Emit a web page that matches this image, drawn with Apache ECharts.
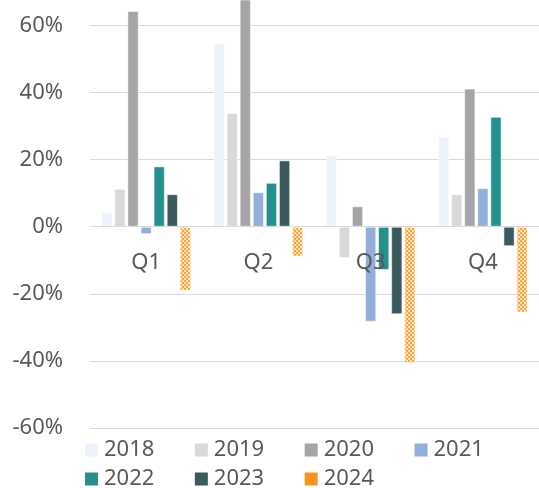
<!DOCTYPE html>
<html>
<head>
<meta charset="utf-8">
<script src="https://cdn.jsdelivr.net/npm/echarts@6/dist/echarts.min.js"></script>
<style>
  html, body { margin: 0; padding: 0; background: #fff; }
  #chart { width: 539px; height: 488px; }
</style>
</head>
<body>
<div id="chart"></div>
<script>
var quarters = ["Q1", "Q2", "Q3", "Q4"];
var years = ["2018", "2019", "2020", "2021", "2022", "2023", "2024"];
// growth in %, one array per year (Q1..Q4)
var v2018 = [4.3, 54.8, 21.4, 26.8];
var v2019 = [11.3, 33.9, -9.3, 9.7];
var v2020 = [64.3, 75.0, 6.1, 41.2];
var v2021 = [-2.2, 10.3, -28.3, 11.5];
var v2022 = [18.0, 13.1, -12.9, 32.8];
var v2023 = [9.7, 19.8, -26.1, -5.8];
var v2024 = [-19.1, -8.9, -40.7, -25.6];
var yMin = -60;
var yMax = 67.6; // picture is cropped just above the 60% line
var yStep = 20;

var values = [v2018, v2019, v2020, v2021, v2022, v2023, v2024];
var colors = ["#EEF2FA", "#D9D9D9", "#A5A5A5", "#92AEDA", "#26908F", "#3A5A5E", "#F7941D"];

// checker pattern for 2024
var pat = document.createElement("canvas");
pat.width = 4;
pat.height = 4;
var ctx = pat.getContext("2d");
ctx.fillStyle = "#FDE2BC";
ctx.fillRect(0, 0, 4, 4);
ctx.fillStyle = "#F9A540";
ctx.fillRect(0, 0, 2, 2);
ctx.fillRect(2, 2, 2, 2);

var series = years.map(function (y, i) {
  return {
    name: y,
    type: "bar",
    data: values[i],
    barGap: "16%",
    barCategoryGap: "20%",
    itemStyle: {
      color: i === 6 ? { image: pat, repeat: "repeat" } : colors[i],
      borderColor: "rgba(255,255,255,0.55)",
      borderWidth: 1
    }
  };
});

function legendItems(list) {
  return list.map(function (y) {
    return { name: y, itemStyle: { color: colors[years.indexOf(y)], borderWidth: 0 } };
  });
}

var font = "Noto Sans";
var gridH = 428;
// x axis sits at 0%: shift it up from the grid bottom
var zeroOffset = -gridH * (0 - yMin) / (yMax - yMin);

var legendBase = {
  left: 85,
  padding: 0,
  itemWidth: 13,
  itemHeight: 13,
  itemGap: 40.5,
  icon: "rect",
  textStyle: { fontFamily: font, fontSize: 22, color: "#595959", padding: [0, 0, 0, 1] }
};

var chart = echarts.init(document.getElementById("chart"));
chart.setOption({
  animation: false,
  grid: { left: 90, right: -7, top: 0, height: gridH },
  legend: [
    Object.assign({}, legendBase, { top: 439, data: legendItems(years.slice(0, 4)) }),
    Object.assign({}, legendBase, { top: 468, data: legendItems(years.slice(4)) })
  ],
  xAxis: {
    type: "category",
    data: quarters,
    offset: zeroOffset,
    z: 5,
    axisTick: { show: false },
    axisLine: { onZero: false, lineStyle: { color: "#D9D9D9", width: 1 } },
    axisLabel: { fontFamily: font, fontSize: 22, color: "#595959", margin: 25 }
  },
  yAxis: {
    type: "value",
    min: yMin,
    max: yMax,
    interval: yStep,
    axisLine: { show: false },
    axisTick: { show: false },
    splitLine: { showMaxLine: false, lineStyle: { color: "#D9D9D9", width: 1 } },
    axisLabel: {
      fontFamily: font,
      fontSize: 22,
      color: "#595959",
      margin: 27,
      showMaxLabel: false,
      formatter: "{value}%"
    }
  },
  series: series
});
</script>
</body>
</html>
